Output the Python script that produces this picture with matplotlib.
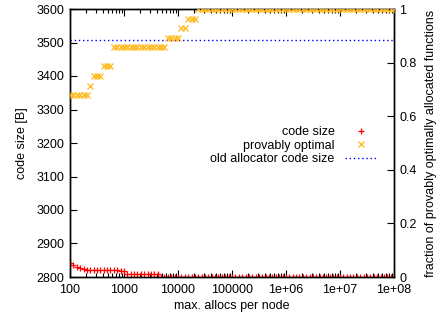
import matplotlib
matplotlib.use("Agg")
import matplotlib.pyplot as plt
from matplotlib.ticker import LogLocator, FixedLocator, NullFormatter

plt.rcParams['font.family'] = ['Liberation Sans', 'DejaVu Sans']

# max. allocs per node (sample positions)
allocs = [
    100, 115, 133, 154, 178, 205, 237, 274, 316, 365, 422, 487, 562, 649, 750, 866,
    1000, 1155, 1334, 1540, 1778, 2054, 2371, 2738, 3162, 3652, 4217, 4870, 5623, 6494, 7499, 8660,
    10000, 11548, 13335, 15399, 17783, 20535, 23714, 27384, 31623, 36517, 42170, 48697, 56234, 64938, 74989, 86596,
    100000, 115478, 133352, 153993, 177828, 205353, 237137, 273842, 316228, 365174, 421697, 486968, 562341, 649382, 749894, 865964,
    1000000, 1154782, 1333521, 1539927, 1778279, 2053525, 2371374, 2738420, 3162278, 3651741, 4216965, 4869675, 5623413, 6493816, 7498942, 8659643,
    10000000, 11547820, 13335214, 15399265, 17782794, 20535250, 23713737, 27384196, 31622777, 36517413, 42169650, 48696753, 56234133, 64938163, 74989421, 86596432,
    100000000,
]

code_size = [
    2843, 2835, 2830, 2826, 2823, 2822, 2822, 2822, 2822, 2822, 2822, 2822, 2822, 2822, 2822, 2817,
    2817, 2808, 2808, 2808, 2808, 2808, 2808, 2808, 2808, 2808, 2808, 2800, 2800, 2800, 2800, 2800,
    2800, 2800, 2800, 2800, 2800, 2800, 2800, 2800, 2800, 2800, 2800, 2800, 2800, 2800, 2800, 2800,
    2800, 2800, 2800, 2800, 2800, 2800, 2800, 2800, 2800, 2800, 2800, 2800, 2800, 2800, 2800, 2800,
    2800, 2800, 2800, 2800, 2800, 2800, 2800, 2800, 2800, 2800, 2800, 2800, 2800, 2800, 2800, 2800,
    2800, 2800, 2800, 2800, 2800, 2800, 2800, 2800, 2800, 2800, 2800, 2800, 2800, 2800, 2800, 2800,
    2800,
]

provably_optimal = [
    0.679, 0.679, 0.679, 0.679, 0.679, 0.679, 0.714, 0.750, 0.750, 0.750, 0.786, 0.786, 0.786, 0.857, 0.857, 0.857,
    0.857, 0.857, 0.857, 0.857, 0.857, 0.857, 0.857, 0.857, 0.857, 0.857, 0.857, 0.857, 0.857, 0.893, 0.893, 0.893,
    0.893, 0.929, 0.929, 0.964, 0.964, 0.964, 1.0, 1.0, 1.0, 1.0, 1.0, 1.0, 1.0, 1.0, 1.0, 1.0,
    1.0, 1.0, 1.0, 1.0, 1.0, 1.0, 1.0, 1.0, 1.0, 1.0, 1.0, 1.0, 1.0, 1.0, 1.0, 1.0,
    1.0, 1.0, 1.0, 1.0, 1.0, 1.0, 1.0, 1.0, 1.0, 1.0, 1.0, 1.0, 1.0, 1.0, 1.0, 1.0,
    1.0, 1.0, 1.0, 1.0, 1.0, 1.0, 1.0, 1.0, 1.0, 1.0, 1.0, 1.0, 1.0, 1.0, 1.0, 1.0,
    1.0,
]

old_allocator_code_size = 3507

x_ticks = [100, 1000, 10000, 100000, 1000000, 10000000, 100000000]
x_tick_labels = ['100', '1000', '10000', '100000', '1e+06', '1e+07', '1e+08']
y_ticks = [2800, 2900, 3000, 3100, 3200, 3300, 3400, 3500, 3600]
y2_ticks = [0, 0.2, 0.4, 0.6, 0.8, 1]
y2_tick_labels = ['0', '0.2', '0.4', '0.6', '0.8', '1']

FS = 9
fig = plt.figure(figsize=(4.39, 3.25), dpi=100)
ax = fig.add_axes([70/439, 1-277/325, 324/439, 268/325])
ax2 = ax.twinx()

ax.set_xscale('log')
ax.set_xlim(100, 1e8)
ax.set_ylim(2800, 3600)
ax2.set_ylim(0, 1)

l1, = ax.plot(allocs, code_size, linestyle='none', marker='+', color='#ff0000',
              markersize=5, markeredgewidth=0.9, label='code size', zorder=3)
l2, = ax2.plot(allocs, provably_optimal, linestyle='none', marker='x', color='#ffb818',
               markersize=4.5, markeredgewidth=0.9, label='provably optimal', zorder=3)
l3 = ax.axhline(old_allocator_code_size, color='#0000ff', linestyle=(0, (1, 2)),
                linewidth=1.0, label='old allocator code size')

ax.xaxis.set_major_locator(FixedLocator(x_ticks))
ax.set_xticklabels(x_tick_labels)
ax.xaxis.set_minor_locator(LogLocator(base=10, subs=range(2, 10), numticks=20))
ax.xaxis.set_minor_formatter(NullFormatter())
ax.set_yticks(y_ticks)
ax2.set_yticks(y2_ticks)
ax2.set_yticklabels(y2_tick_labels)

ax.tick_params(axis='x', which='both', direction='in', top=True, labelsize=FS, pad=5, width=0.8)
ax.tick_params(axis='x', which='major', length=5)
ax.tick_params(axis='x', which='minor', length=3)
ax.tick_params(axis='y', which='both', direction='in', right=False, labelsize=FS, length=5, width=0.8, pad=4)
ax2.tick_params(axis='y', direction='in', labelsize=FS, length=5, width=0.8, pad=4)

for a in (ax, ax2):
    for s in a.spines.values():
        s.set_linewidth(1.0)

ax.set_xlabel('max. allocs per node', fontsize=FS, labelpad=3)
ax.set_ylabel('code size [B]', fontsize=FS, labelpad=6)
ax2.set_ylabel('fraction of provably optimally allocated functions', fontsize=FS, labelpad=6)

leg = ax.legend(handles=[l1, l2, l3], loc='upper right', bbox_to_anchor=(0.975, 0.595),
                frameon=False, fontsize=FS, markerfirst=False, handlelength=2.6,
                handletextpad=0.8, labelspacing=0.12, borderpad=0.2)
for t in leg.get_texts():
    t.set_ha('right')
leg.set_zorder(5)

fig.savefig('out.png', dpi=100)
